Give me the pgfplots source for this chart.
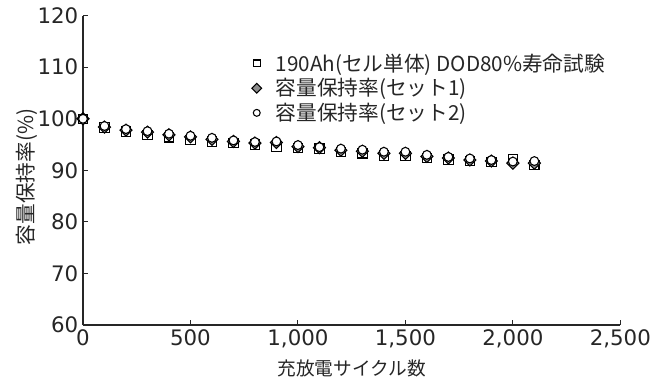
\documentclass[border=0pt]{standalone}
\usepackage{pgfplots}
\pgfplotsset{compat=1.18}
\usepackage{fontspec}
\setmainfont{Noto Sans CJK JP}
\newfontfamily\dejavu{DejaVu Sans}
\begin{document}
\begin{tikzpicture}
\useasboundingbox (-62.25pt,-43.5pt) rectangle (438pt,243.75pt);
\begin{axis}[
  at={(0pt,0pt)}, anchor=south west,
  scale only axis, width=403pt, height=232pt,
  xmin=0, xmax=2500, ymin=60, ymax=120,
  xtick={0,500,...,2500}, ytick={60,70,...,120},
  axis x line=bottom, axis y line=left,
  axis line style={-, line width=0.8pt, black!85},
  tick align=inside, major tick length=4pt,
  tick style={line width=0.8pt, black!85},
  /pgf/number format/assume math mode=true,
  /pgf/number format/1000 sep={,},
  ticklabel style={font=\dejavu\fontsize{16}{18}\selectfont, text=black!85},
  xlabel={充放電サイクル数},
  ylabel={容量保持率(\%)},
  label style={font=\fontsize{14}{16}\selectfont, text=black!85},
  xlabel style={yshift=-2pt},
  ylabel style={font=\fontsize{15.5}{17}\selectfont, yshift=-7pt, xshift=-5pt},
  legend style={at={(rel axis cs:0.305,0.895)}, anchor=north west, draw=none, fill=none,
    font=\fontsize{15.5}{17}\selectfont, text=black!85, row sep=0pt,
    cells={anchor=west, inner ysep=0.3pt}},
  legend cell align=left,
  legend image code/.code={\path (-4pt,0pt) (12pt,0pt); \draw[#1, mark size=2.6pt] plot coordinates {(0pt,0pt)};},
]
\addplot[only marks, mark=square, mark size=3.5pt, mark options={line width=0.8pt, black, fill=none}]
coordinates {(0,100)(100,98.3)(200,97.5)(300,96.9)(400,96.4)(500,95.9)(600,95.6)(700,95.3)(800,95.0)(900,94.6)(1000,94.3)(1100,94.2)(1200,93.5)(1300,93.3)(1400,92.9)(1500,92.8)(1600,92.4)(1700,92.1)(1800,91.8)(1900,91.6)(2000,92.1)(2100,91.0)};
\addlegendentry{190Ah(セル単体) DOD80\%寿命試験}
\addplot[only marks, mark=square*, mark size=3.2pt, mark options={rotate=45, line width=0.8pt, draw=black, fill=black!45}]
coordinates {(0,100)(100,98.4)(200,97.8)(300,97.4)(400,96.9)(500,96.5)(600,96.0)(700,95.6)(800,95.3)(900,95.4)(1000,94.6)(1100,94.4)(1200,93.9)(1300,93.7)(1400,93.3)(1500,93.3)(1600,92.7)(1700,92.4)(1800,92.0)(1900,91.8)(2000,91.4)(2100,91.4)};
\addlegendentry{容量保持率(セット1)}
\addplot[only marks, mark=*, mark size=3.3pt, mark options={line width=0.8pt, draw=black, fill=white}]
coordinates {(0,100)(100,98.6)(200,98.0)(300,97.6)(400,97.1)(500,96.7)(600,96.3)(700,95.8)(800,95.5)(900,95.6)(1000,94.9)(1100,94.5)(1200,94.2)(1300,94.0)(1400,93.6)(1500,93.6)(1600,93.0)(1700,92.6)(1800,92.3)(1900,92.0)(2000,91.7)(2100,91.8)};
\addlegendentry{容量保持率(セット2)}
\end{axis}
\end{tikzpicture}
\end{document}
